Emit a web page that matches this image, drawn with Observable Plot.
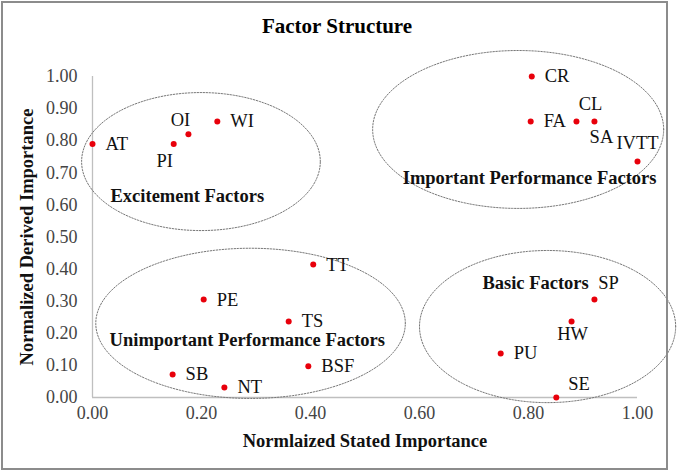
<!DOCTYPE html>
<html><head><meta charset="utf-8">
<script src="https://cdn.jsdelivr.net/npm/d3@7"></script>
<script src="https://cdn.jsdelivr.net/npm/@observablehq/plot@0.6"></script>
<style>
body{margin:0;background:#fff;}
#wrap{position:relative;width:677px;height:471px;overflow:hidden;}
#frame{position:absolute;left:1px;top:1px;width:663px;height:465px;border:2px solid #8c8c8c;pointer-events:none;}
#wrap svg, #wrap svg text{font-family:"Liberation Serif","Times New Roman",serif !important;}
</style></head><body><div id="wrap"><div id="frame"></div></div>
<script>
// ---- data ----
const codes   = ["AT","PI","OI","WI","CR","FA","CL","SA","IVTT","TT","PE","TS","BSF","SB","NT","SP","HW","PU","SE"];
const stated  = [0.00,0.149,0.176,0.229,0.806,0.804,0.888,0.921,1.00,0.405,0.204,0.360,0.396,0.147,0.242,0.921,0.879,0.749,0.851];
const derived = [0.79,0.79,0.82,0.86,1.00,0.86,0.86,0.86,0.735,0.414,0.305,0.237,0.097,0.072,0.031,0.305,0.237,0.137,0.00];
const labelSide = ["E","SW","NW","E","E","E","NE","SE","N","E","E","E","E","E","E","NE","S","E","ENE"];

const groupNames = ["Excitement Factors","Important Performance Factors","Unimportant Performance Factors","Basic Factors"];
const groupX = [0.174,0.802,0.284,0.813];
const groupY = [0.626,0.685,0.178,0.358];
const ellipseCX = [0.199,0.781,0.290,0.835];
const ellipseCY = [0.735,0.835,0.231,0.221];
const ellipseRX = [0.219,0.267,0.284,0.235];
const ellipseRY = [0.215,0.246,0.234,0.237];

const xTicks = [0,0.2,0.4,0.6,0.8,1.0];
const yTicks = [0,0.1,0.2,0.3,0.4,0.5,0.6,0.7,0.8,0.9,1.0];
const title = "Factor Structure";
const xTitle = "Normlaized Stated Importance";
const yTitle = "Normalized Derived Importance";

// ---- build ----
const points = codes.map((c,i)=>({code:c,x:stated[i],y:derived[i],side:labelSide[i]}));
const groups = groupNames.map((g,i)=>({name:g,x:groupX[i],y:groupY[i]}));
const ellipsePts = [];
groupNames.forEach((g,i)=>{
  const n=160;
  for(let k=0;k<=n;k++){
    const t=2*Math.PI*k/n;
    ellipsePts.push({g, x:ellipseCX[i]+ellipseRX[i]*Math.cos(t), y:ellipseCY[i]+ellipseRY[i]*Math.sin(t)});
  }
});
const offsets = {
  E:{dx:13,dy:0,a:"start"}, N:{dx:0,dy:-18,a:"middle"}, S:{dx:1,dy:13,a:"middle"},
  NE:{dx:14,dy:-17,a:"middle"}, SE:{dx:7,dy:16,a:"middle"}, NW:{dx:-8,dy:-14,a:"middle"},
  SW:{dx:-9,dy:17,a:"middle"}, ENE:{dx:12,dy:-13,a:"start"}
};
const serif = "Liberation Serif, Times New Roman, serif";
const labelMarks = Object.entries(offsets).map(([k,o])=>
  Plot.text(points.filter(d=>d.side===k),{x:"x",y:"y",text:"code",dx:o.dx,dy:o.dy,textAnchor:o.a,fontSize:18.5,fill:"#111"}));

const chart = Plot.plot({
  width:677, height:471,
  marginLeft:92, marginRight:40, marginTop:76, marginBottom:74,
  style:{fontFamily:serif, fontSize:"18px", background:"transparent", overflow:"visible"},
  x:{domain:[0,1]}, y:{domain:[0,1]},
  marks:[
    Plot.ruleX([0],{stroke:"#bfbfbf",strokeWidth:1.3}),
    Plot.ruleY([0],{stroke:"#bfbfbf",strokeWidth:1.3}),
    Plot.axisX(xTicks,{tickFormat:d3.format(".2f"),tickSize:0,tickPadding:9,fontSize:18,fill:"#444",label:null}),
    Plot.axisY(yTicks,{tickFormat:d3.format(".2f"),tickSize:0,tickPadding:15,fontSize:18,fill:"#444",label:null}),
    Plot.line(ellipsePts,{x:"x",y:"y",z:"g",stroke:"#777",strokeWidth:1,strokeDasharray:"1.5,1.5"}),
    Plot.dot(points,{x:"x",y:"y",r:3,fill:"#e8000b",stroke:"none"}),
    ...labelMarks,
    Plot.text(groups,{x:"x",y:"y",text:"name",fontWeight:"bold",fontSize:18.5,fill:"#111"}),
    Plot.text([title],{frameAnchor:"top",lineAnchor:"middle",dx:-28,dy:-50,fontWeight:"bold",fontSize:21,fill:"#000"}),
    Plot.text([xTitle],{frameAnchor:"bottom",lineAnchor:"middle",dy:44,fontWeight:"bold",fontSize:18.5,fill:"#111"}),
    Plot.text([yTitle],{frameAnchor:"left",textAnchor:"middle",lineAnchor:"middle",dx:-65,rotate:-90,fontWeight:"bold",fontSize:18.5,fill:"#111"})
  ]
});
document.getElementById("wrap").insertBefore(chart, document.getElementById("frame"));
</script>
</body></html>
